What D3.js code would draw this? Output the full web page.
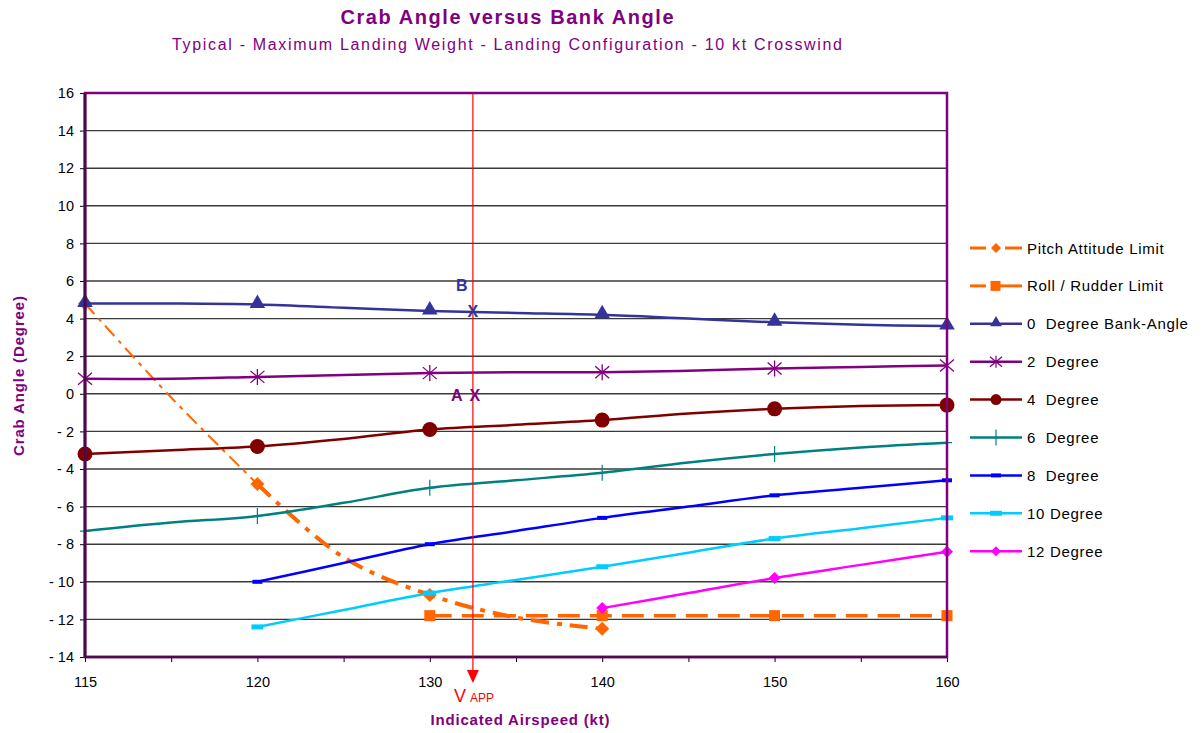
<!DOCTYPE html>
<html><head><meta charset="utf-8">
<script src="https://cdn.jsdelivr.net/npm/d3@7"></script>
<style>body{margin:0;background:#fff}svg{display:block;font-family:"Liberation Sans",Arial,sans-serif}.lgt{white-space:pre}</style>
</head><body>
<svg id="c" width="1204" height="733"></svg>
<script>
// ---- data ----
const categories = ["115","117.5","120","125","130","135","140","145","150","155","160"];
const tickLabels = ["115","120","130","140","150","160"];
const markerCats = ["115","120","130","140","150","160"];
const yTicks = [-14,-12,-10,-8,-6,-4,-2,0,2,4,6,8,10,12,14,16];

const pitchLimit = [4.8, -0.2, -4.8, -8.7, -10.7, -11.9, -12.5, null, null, null, null];
const rollLimit  = [null, null, null, null, -11.8, -11.8, -11.8, -11.8, -11.8, -11.8, -11.8];
const bank0  = [4.8, 4.8, 4.75, 4.58, 4.4, 4.3, 4.2, 4.0, 3.8, 3.67, 3.6];
const bank2  = [0.8, 0.8, 0.9, 1.0, 1.1, 1.15, 1.15, 1.22, 1.35, 1.43, 1.5];
const bank4  = [-3.2, -3.0, -2.8, -2.4, -1.9, -1.65, -1.4, -1.05, -0.8, -0.65, -0.6];
const bank6  = [-7.3, -6.85, -6.5, -5.8, -5.0, -4.6, -4.2, -3.65, -3.2, -2.85, -2.6];
const bank8  = [null, null, -10.0, -9.0, -8.0, -7.3, -6.6, -6.0, -5.4, -5.0, -4.6];
const bank10 = [null, null, -12.4, -11.5, -10.6, -9.9, -9.2, -8.45, -7.7, -7.15, -6.6];
const bank12 = [null, null, null, null, null, null, -11.4, -10.6, -9.8, -9.1, -8.4];

const seriesNames = ["Pitch Attitude Limit","Roll / Rudder Limit","0  Degree Bank-Angle","2  Degree","4  Degree","6  Degree","8  Degree","10 Degree","12 Degree"];
const vApp = 132.5;
const pointA = {kt:132.5, v:0};
const pointB = {kt:132.5, v:4.4};

// ---- styles ----
const series = [
  {name:seriesNames[0], vals:pitchLimit, color:"#FF6600", marker:"diamondL", dash:"14,6,4,6"},
  {name:seriesNames[1], vals:rollLimit, color:"#FF6600", marker:"square", dash:"22,10", width:3.5},
  {name:seriesNames[2], vals:bank0, color:"#333399", marker:"triangle"},
  {name:seriesNames[3], vals:bank2, color:"#800080", marker:"asterisk"},
  {name:seriesNames[4], vals:bank4, color:"#800000", marker:"circle"},
  {name:seriesNames[5], vals:bank6, color:"#008080", marker:"plus"},
  {name:seriesNames[6], vals:bank8, color:"#0000FF", marker:"dash8"},
  {name:seriesNames[7], vals:bank10, color:"#00CCFF", marker:"dash10"},
  {name:seriesNames[8], vals:bank12, color:"#FF00FF", marker:"diamond"}
];

const svg = d3.select("#c");
const L=85, R=947, T=93, B=657;
const x = d3.scalePoint().domain(categories).range([L,R]);
const y = d3.scaleLinear().domain([-14,16]).range([B,T]);
const catNum = categories.map(Number);
const xNum = d3.scaleLinear().domain(catNum).range(categories.map(c=>x(c)));

// gridlines
svg.append("g").selectAll("line").data(yTicks.filter(t=>t>-14 && t<16)).join("line")
  .attr("x1",L).attr("x2",R).attr("y1",d=>y(d)).attr("y2",d=>y(d))
  .attr("stroke","#3a3a3a").attr("stroke-width",1.4);

// axes
const yAxis = svg.append("g").attr("transform",`translate(${L},0)`)
  .call(d3.axisLeft(y).tickValues(yTicks).tickSize(5).tickPadding(6).tickFormat(d=>d<0?"- "+Math.abs(d):d));
yAxis.select(".domain").remove();
yAxis.selectAll("line").attr("stroke","#000");
yAxis.selectAll("text").attr("font-size",14.5).attr("fill","#000").attr("font-family","Liberation Sans, Arial");

const xAxis = svg.append("g").attr("transform",`translate(0,${B})`)
  .call(d3.axisBottom(x).tickSize(5).tickPadding(15).tickFormat(d=>tickLabels.includes(d)?d:""));
xAxis.select(".domain").remove();
xAxis.selectAll("line").attr("stroke","#000");
xAxis.selectAll("text").attr("font-size",14.5).attr("fill","#000").attr("font-family","Liberation Sans, Arial");

// marker drawing
function drawMarker(g, type, color, cx, cy){
  const s = g.append("g").attr("transform",`translate(${cx},${cy})`);
  switch(type){
    case "triangle": s.append("path").attr("d",d3.symbol(d3.symbolTriangle,105)()).attr("transform","translate(0,-1)").attr("fill",color); break;
    case "asterisk": s.append("path").attr("d","M-7,-6L7,6M-7,6L7,-6M0,-8L0,8").attr("stroke",color).attr("stroke-width",1.3); break;
    case "circle": s.append("circle").attr("r",7.5).attr("fill",color); break;
    case "plus": s.append("path").attr("d","M0,-8L0,8M-5,0L5,0").attr("stroke",color).attr("stroke-width",1.2); break;
    case "dash8": s.append("rect").attr("x",-5).attr("y",-2).attr("width",10).attr("height",4).attr("fill",color); break;
    case "dash10": s.append("rect").attr("x",-6).attr("y",-2.5).attr("width",12).attr("height",5).attr("fill",color); break;
    case "diamond": s.append("path").attr("d","M0,-6L6,0L0,6L-6,0Z").attr("fill",color); break;
    case "diamondL": s.append("path").attr("d","M0,-7L7,0L0,7L-7,0Z").attr("fill",color); break;
    case "square": s.append("rect").attr("x",-5.5).attr("y",-5.5).attr("width",11).attr("height",11).attr("fill",color); break;
  }
}

const line = d3.line().defined(d=>d.v!=null).x(d=>x(d.c)).y(d=>y(d.v)).curve(d3.curveCatmullRom.alpha(0.5));
const plot = svg.append("g");
series.forEach((s,si)=>{
  const pts = categories.map((c,i)=>({c, v:s.vals[i]}));
  if(si===0){
    plot.append("path").datum(pts.slice(0,3)).attr("d",line).attr("fill","none")
      .attr("stroke",s.color).attr("stroke-width",2).attr("stroke-dasharray","14,6,4,6");
    plot.append("path").datum(pts.slice(2)).attr("d",line).attr("fill","none")
      .attr("stroke",s.color).attr("stroke-width",4).attr("stroke-dasharray","18,8,5,8");
  } else {
    plot.append("path").datum(pts).attr("d",line).attr("fill","none")
      .attr("stroke",s.color).attr("stroke-width",s.width||2.5)
      .attr("stroke-dasharray",s.dash||null);
  }
  pts.filter(p=>p.v!=null && markerCats.includes(p.c))
     .forEach(p=>drawMarker(plot, s.marker, s.color, x(p.c), y(p.v)));
});

// border
svg.append("rect").attr("x",L).attr("y",T).attr("width",R-L).attr("height",B-T)
  .attr("fill","none").attr("stroke","#800080").attr("stroke-width",2.5);
svg.append("line").attr("x1",L).attr("x2",L).attr("y1",T).attr("y2",B+1)
  .attr("stroke","#4a0a4a").attr("stroke-width",3);
svg.append("line").attr("x1",L).attr("x2",R).attr("y1",B).attr("y2",B)
  .attr("stroke","#500a50").attr("stroke-width",2.5);

// V_APP line
const vx = xNum(vApp);
svg.append("line").attr("x1",vx).attr("x2",vx).attr("y1",T).attr("y2",680)
  .attr("stroke","#FF0000").attr("stroke-width",1.2);
svg.append("path").attr("d",`M${vx-6},670L${vx+6},670L${vx},683Z`).attr("fill","#FF0000");
const vt = svg.append("text").attr("x",vx-19).attr("y",702).attr("fill","#FF0000");
vt.append("tspan").attr("font-size",18).text("V");
vt.append("tspan").attr("font-size",12).attr("dx",4).text("APP");

// A / B annotations
svg.append("text").attr("x",xNum(pointB.kt)-17).attr("y",y(pointB.v)-20).attr("font-size",16)
  .attr("font-weight","bold").attr("fill","#333399").text("B");
svg.append("text").attr("x",xNum(pointB.kt)).attr("y",y(pointB.v)+6).attr("text-anchor","middle")
  .attr("font-size",16).attr("font-weight","bold").attr("fill","#333399").text("X");
svg.append("text").attr("x",xNum(pointA.kt)-22).attr("y",y(pointA.v)+7).attr("font-size",16)
  .attr("font-weight","bold").attr("fill","#800080").text("A");
svg.append("text").attr("x",xNum(pointA.kt)+2).attr("y",y(pointA.v)+7).attr("text-anchor","middle")
  .attr("font-size",16).attr("font-weight","bold").attr("fill","#800080").text("X");

// legend
const lg = svg.append("g");
series.forEach((s,i)=>{
  const ly = 248 + i*37.9;
  if(i<2){
    lg.append("line").attr("x1",970).attr("x2",986).attr("y1",ly).attr("y2",ly).attr("stroke",s.color).attr("stroke-width",3);
    lg.append("line").attr("x1",(i===0?1005:1000)).attr("x2",1022).attr("y1",ly).attr("y2",ly).attr("stroke",s.color).attr("stroke-width",3);
  } else {
    lg.append("line").attr("x1",970).attr("x2",1022).attr("y1",ly).attr("y2",ly).attr("stroke",s.color).attr("stroke-width",2.5);
  }
  const mt = s.marker==="diamondL"?"diamond":s.marker==="circle"?"circleS":s.marker;
  if(mt==="circleS"){ lg.append("circle").attr("cx",996).attr("cy",ly).attr("r",5.5).attr("fill",s.color); }
  else if(mt==="triangle"){ lg.append("path").attr("d",d3.symbol(d3.symbolTriangle,60)()).attr("transform",`translate(996,${ly-1})`).attr("fill",s.color); }
  else if(mt==="asterisk"){ lg.append("path").attr("d",`M${990},${ly-5}L${1002},${ly+5}M${990},${ly+5}L${1002},${ly-5}M996,${ly-6}L996,${ly+6}`).attr("stroke",s.color).attr("stroke-width",1.2); }
  else if(mt==="diamond"){ lg.append("path").attr("d",`M996,${ly-5}L1001,${ly}L996,${ly+5}L991,${ly}Z`).attr("fill",s.color); }
  else if(mt==="square"){ lg.append("rect").attr("x",990.5).attr("y",ly-5).attr("width",10).attr("height",10).attr("fill",s.color); }
  else drawMarker(lg, mt, s.color, 996, ly);
  lg.append("text").attr("class","lgt").attr("x",1027).attr("y",ly+5.5).attr("font-size",15)
    .attr("letter-spacing",0.7).attr("fill","#000").text(s.name);
});

// titles
svg.append("text").attr("x",507).attr("y",24).attr("text-anchor","middle").attr("font-size",20)
  .attr("font-weight","bold").attr("fill","#800080").attr("textLength",333).attr("lengthAdjust","spacing")
  .text("Crab Angle versus Bank Angle");
svg.append("text").attr("x",507).attr("y",50).attr("text-anchor","middle").attr("font-size",16)
  .attr("fill","#800080").attr("textLength",670).attr("lengthAdjust","spacing")
  .text("Typical - Maximum Landing Weight - Landing Configuration - 10 kt Crosswind");
svg.append("text").attr("transform","translate(24,376) rotate(-90)").attr("text-anchor","middle")
  .attr("font-size",15).attr("font-weight","bold").attr("fill","#800080").attr("textLength",160).attr("lengthAdjust","spacing")
  .text("Crab Angle (Degree)");
svg.append("text").attr("x",520).attr("y",725).attr("text-anchor","middle")
  .attr("font-size",15).attr("font-weight","bold").attr("fill","#800080").attr("textLength",179).attr("lengthAdjust","spacing")
  .text("Indicated Airspeed (kt)");
</script>
</body></html>
